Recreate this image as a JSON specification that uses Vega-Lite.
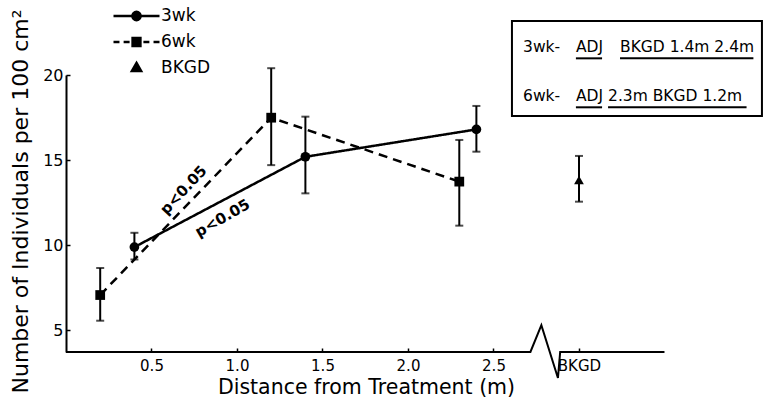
{
  "$schema": "https://vega.github.io/schema/vega-lite/v6.json",
  "width": 698,
  "height": 277,
  "autosize": {"type": "none"},
  "padding": {"left": 66, "top": 75, "right": 0, "bottom": 54},
  "background": "white",
  "config": {
    "view": {"stroke": null},
    "font": "DejaVu Sans",
    "axis": {"grid": false, "labelColor": "black", "titleColor": "black", "tickColor": "black", "domainColor": "black"}
  },
  "resolve": {"scale": {"shape": "independent"}, "legend": {"shape": "independent"}},
  "datasets": {
    "counts": [
      {"series": "3wk", "dist": 0.4, "mean": 9.88, "lo": 9.15, "hi": 10.72},
      {"series": "3wk", "dist": 1.4, "mean": 15.19, "lo": 13.04, "hi": 17.55},
      {"series": "3wk", "dist": 2.4, "mean": 16.8, "lo": 15.49, "hi": 18.18},
      {"series": "6wk", "dist": 0.2, "mean": 7.06, "lo": 5.55, "hi": 8.65},
      {"series": "6wk", "dist": 1.2, "mean": 17.49, "lo": 14.7, "hi": 20.4},
      {"series": "6wk", "dist": 2.3, "mean": 13.73, "lo": 11.14, "hi": 16.18},
      {"series": "BKGD", "dist": 3.0, "mean": 13.82, "lo": 12.55, "hi": 15.24}
    ],
    "baseline": [
      {"i": 0, "dist": 0, "v": 3.71},
      {"i": 1, "dist": 2.716, "v": 3.71},
      {"i": 2, "dist": 2.78, "v": 5.29},
      {"i": 3, "dist": 2.877, "v": 2.18},
      {"i": 4, "dist": 2.89, "v": 3.71},
      {"i": 5, "dist": 3.5, "v": 3.71}
    ],
    "signif": [
      {"series": "6wk", "label": "p<0.05", "dist": 0.687, "v": 13.24},
      {"series": "3wk", "label": "p<0.05", "dist": 0.915, "v": 11.59}
    ],
    "box": [
      {"x1": 2.608, "x2": 4.07, "y1": 23.18, "y2": 17.59}
    ],
    "boxText": [
      {"txt": "3wk-", "dist": 2.673, "v": 21.65},
      {"txt": "ADJ", "dist": 2.982, "v": 21.65},
      {"txt": "BKGD 1.4m 2.4m", "dist": 3.24, "v": 21.65},
      {"txt": "6wk-", "dist": 2.673, "v": 18.76},
      {"txt": "ADJ", "dist": 2.982, "v": 18.76},
      {"txt": "2.3m BKGD 1.2m", "dist": 3.17, "v": 18.76}
    ],
    "underlines": [
      {"x1": 2.982, "x2": 3.135, "v": 20.98},
      {"x1": 3.24, "x2": 4.02, "v": 20.98},
      {"x1": 2.982, "x2": 3.135, "v": 18.1},
      {"x1": 3.17, "x2": 3.98, "v": 18.1}
    ]
  },
  "layer": [
    {
      "data": {"name": "baseline"},
      "mark": {"type": "line", "color": "black", "strokeWidth": 2, "strokeJoin": "miter"},
      "encoding": {
        "x": {
          "field": "dist", "type": "quantitative",
          "scale": {"domain": [0, 4.082], "nice": false, "zero": false},
          "axis": {
            "values": [0.5, 1, 1.5, 2, 2.5, 3],
            "labelExpr": "datum.value == 3 ? 'BKGD' : format(datum.value, '.1f')",
            "domain": false,
            "tickSize": -4,
            "tickWidth": 1.5,
            "labelFontSize": 15,
            "labelPadding": 10,
            "title": "Distance from Treatment (m)",
            "titleFontSize": 20.5,
            "titleFontWeight": "normal",
            "titleX": 300,
            "titleY": 41,
            "titleAlign": "center",
            "titleBaseline": "alphabetic"
          }
        },
        "y": {
          "field": "v", "type": "quantitative",
          "scale": {"domain": [3.71, 20], "nice": false, "zero": false},
          "axis": {
            "values": [5, 10, 15, 20],
            "tickSize": -4,
            "tickWidth": 1.5,
            "domainWidth": 2,
            "labelFontSize": 16,
            "labelPadding": 7,
            "title": "Number of Individuals per 100 cm²",
            "titleFontSize": 22,
            "titleFontWeight": "normal",
            "titleX": -46,
            "titleY": 126,
            "titleAngle": 270,
            "titleAlign": "center",
            "titleBaseline": "middle"
          }
        },
        "order": {"field": "i", "type": "quantitative"}
      }
    },
    {
      "data": {"name": "counts"},
      "transform": [{"filter": "datum.series !== 'BKGD'"}],
      "mark": {"type": "line", "color": "black", "strokeWidth": 2.5},
      "encoding": {
        "x": {"field": "dist", "type": "quantitative"},
        "y": {"field": "mean", "type": "quantitative", "title": "Number of Individuals per 100 cm²"},
        "strokeDash": {
          "field": "series", "type": "nominal",
          "scale": {"domain": ["3wk", "6wk"], "range": [[1, 0], [9, 6]]},
          "legend": null
        }
      }
    },
    {
      "data": {"name": "counts"},
      "mark": {"type": "errorbar", "color": "black", "thickness": 2, "ticks": {"size": 8, "thickness": 2, "color": "black"}},
      "encoding": {
        "x": {"field": "dist", "type": "quantitative"},
        "y": {"field": "lo", "type": "quantitative", "title": "Number of Individuals per 100 cm²"},
        "y2": {"field": "hi"}
      }
    },
    {
      "data": {"name": "counts"},
      "mark": {"type": "point", "filled": true, "color": "black", "opacity": 1, "size": 95},
      "encoding": {
        "x": {"field": "dist", "type": "quantitative"},
        "y": {"field": "mean", "type": "quantitative", "title": "Number of Individuals per 100 cm²"},
        "shape": {
          "field": "series", "type": "nominal",
          "scale": {"domain": ["3wk", "6wk", "BKGD"], "range": ["circle", "square", "triangle-up"]},
          "legend": null
        }
      }
    },
    {
      "data": {"name": "counts"},
      "transform": [{"filter": "false"}],
      "mark": {"type": "point", "filled": false, "color": "black", "strokeWidth": 2.5, "opacity": 1},
      "encoding": {
        "x": {"field": "dist", "type": "quantitative"},
        "y": {"field": "mean", "type": "quantitative", "title": "Number of Individuals per 100 cm²"},
        "shape": {
          "field": "series", "type": "nominal",
          "scale": {
            "domain": ["3wk", "6wk", "BKGD"],
            "range": [
              "M-1,0H1M0.18,0A0.18,0.18 0 1,1 -0.18,0A0.18,0.18 0 1,1 0.18,0ZM0.11,0A0.11,0.11 0 1,1 -0.11,0A0.11,0.11 0 1,1 0.11,0ZM0.04,0A0.04,0.04 0 1,1 -0.04,0A0.04,0.04 0 1,1 0.04,0Z",
              "M-1,0H-0.74M-0.56,0H-0.3M0.3,0H0.56M0.74,0H1M-0.17,-0.17H0.17V0.17H-0.17ZM-0.1,-0.1H0.1V0.1H-0.1ZM-0.03,-0.03H0.03V0.03H-0.03Z",
              "M0,-0.22L0.2,0.13L-0.2,0.13ZM0,-0.1L0.09,0.06L-0.09,0.06ZM0,-0.02L0.02,0.02L-0.02,0.02Z"
            ]
          },
          "legend": {
            "orient": "none",
            "legendX": 46,
            "legendY": -72,
            "title": null,
            "padding": 0,
            "symbolSize": 2116,
            "clipHeight": 26,
            "rowPadding": 0,
            "labelOffset": 0,
            "labelFontSize": 17,
            "labelColor": "black",
            "symbolStrokeWidth": 2.5,
            "symbolStrokeColor": "black",
            "symbolOpacity": 1
          }
        }
      }
    },
    {
      "data": {"name": "signif"},
      "transform": [{"filter": "datum.series === '6wk'"}],
      "mark": {"type": "text", "angle": -47, "fontSize": 15, "fontWeight": "bold", "color": "black"},
      "encoding": {
        "x": {"field": "dist", "type": "quantitative"},
        "y": {"field": "v", "type": "quantitative"},
        "text": {"field": "label"}
      }
    },
    {
      "data": {"name": "signif"},
      "transform": [{"filter": "datum.series === '3wk'"}],
      "mark": {"type": "text", "angle": -30, "fontSize": 15, "fontWeight": "bold", "color": "black"},
      "encoding": {
        "x": {"field": "dist", "type": "quantitative"},
        "y": {"field": "v", "type": "quantitative"},
        "text": {"field": "label"}
      }
    },
    {
      "data": {"name": "box"},
      "mark": {"type": "rect", "fill": null, "stroke": "black", "strokeWidth": 2, "clip": false},
      "encoding": {
        "x": {"field": "x1", "type": "quantitative"},
        "x2": {"field": "x2"},
        "y": {"field": "y1", "type": "quantitative"},
        "y2": {"field": "y2"}
      }
    },
    {
      "data": {"name": "boxText"},
      "mark": {"type": "text", "align": "left", "baseline": "middle", "fontSize": 15.5, "color": "black"},
      "encoding": {
        "x": {"field": "dist", "type": "quantitative"},
        "y": {"field": "v", "type": "quantitative"},
        "text": {"field": "txt"}
      }
    },
    {
      "data": {"name": "underlines"},
      "mark": {"type": "rule", "color": "black", "strokeWidth": 2},
      "encoding": {
        "x": {"field": "x1", "type": "quantitative"},
        "x2": {"field": "x2"},
        "y": {"field": "v", "type": "quantitative"}
      }
    }
  ]
}
